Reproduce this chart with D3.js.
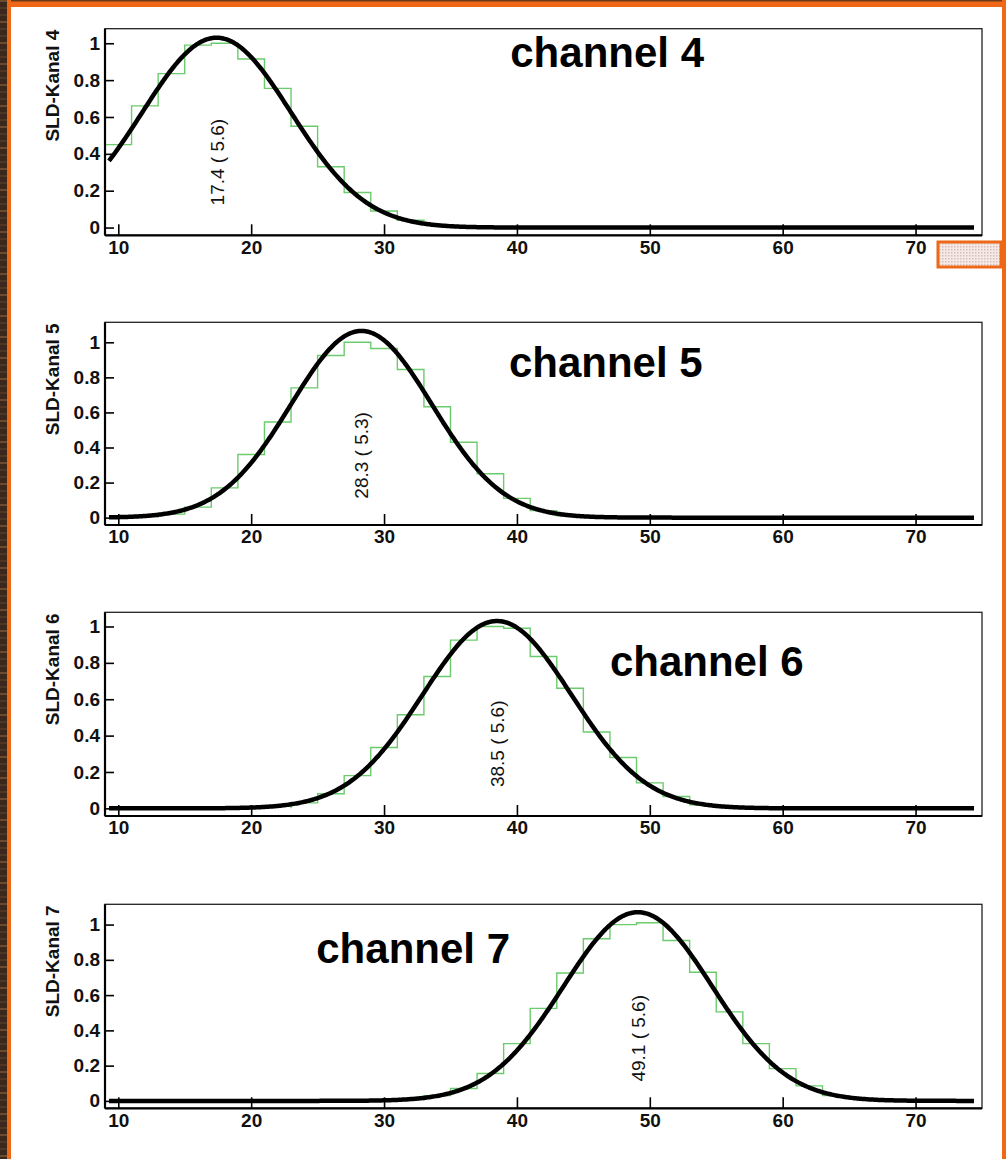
<!DOCTYPE html>
<html>
<head>
<meta charset="utf-8">
<script src="https://cdn.jsdelivr.net/npm/d3@7"></script>
<style>
body{margin:0;background:#fff;}
svg{display:block;font-family:"Liberation Sans",Arial,Helvetica,sans-serif;}
</style>
</head>
<body>
<script>
let channels = ["channel 4","channel 5","channel 6","channel 7"];
let yTitles = ["SLD-Kanal 4","SLD-Kanal 5","SLD-Kanal 6","SLD-Kanal 7"];
let fitLabels = ["17.4 ( 5.6)","28.3 ( 5.3)","38.5 ( 5.6)","49.1 ( 5.6)"];
let fitMean = [17.4, 28.3, 38.5, 49.1];
let fitSigma = [5.6, 5.3, 5.6, 5.6];
let fitAmp = [1.03, 1.065, 1.03, 1.07];

// histogram contents, bins of width 2 starting at binStart
let binStart = [9, 13, 23, 33];
let hist4 = [0.45,0.66,0.835,0.99,1.0,0.915,0.755,0.55,0.33,0.19,0.09,0.04,0.015,0.005];
let hist5 = [0.02,0.06,0.17,0.36,0.545,0.74,0.925,1.0,0.965,0.845,0.632,0.43,0.25,0.11,0.04,0.01];
let hist6 = [0.03,0.08,0.18,0.335,0.515,0.725,0.925,1.0,0.99,0.835,0.66,0.42,0.28,0.14,0.065,0.02];
let hist7 = [0.03,0.07,0.155,0.325,0.525,0.725,0.92,1.0,1.01,0.91,0.73,0.505,0.325,0.183,0.085,0.03,0.01];
let hists = [hist4, hist5, hist6, hist7];

let xTicks = [10,20,30,40,50,60,70];
let xMinor = d3.range(10, 75, 2);
let yTicks = [0,0.2,0.4,0.6,0.8,1];
let yMinor = d3.range(0, 1.1, 0.04);
let yAxisMax = [1.079, 1.114, 1.078, 1.115];
let yAxisMin = -0.042;

let W = 1006, H = 1159;
let panelTop = [28.7, 322.3, 612.3, 904.3];
let panelBottom = [235.3, 525, 816, 1108.3];
let textPos = [[39.5,0.87],[39.4,0.80],[47,0.73],[24.9,0.78]];

let svg = d3.select("body").append("svg").attr("width",W).attr("height",H);

let defs = svg.append("defs");
let pat = defs.append("pattern").attr("id","dots").attr("width",3).attr("height",3)
      .attr("patternUnits","userSpaceOnUse");
pat.append("rect").attr("width",3).attr("height",3).attr("fill","#f6e8e4");
pat.append("rect").attr("width",1.5).attr("height",1.5).attr("fill","#d4c0ba");

svg.append("rect").attr("width",W).attr("height",H).attr("fill","#fff");

// border decoration
svg.append("rect").attr("x",0).attr("y",0).attr("width",W).attr("height",7).attr("fill","#ee6818");
svg.append("rect").attr("x",0).attr("y",0).attr("width",W).attr("height",1.5).attr("fill","#6a3c1c");
svg.append("rect").attr("x",0).attr("y",0).attr("width",7).attr("height",H).attr("fill","#3a281c");
svg.selectAll("rect.wood")
      .data(d3.range(0, H, 7))
      .enter().append("rect")
                .attr("class","wood")
                .attr("x",0).attr("width",7)
                .attr("y",d=>d).attr("height",2)
                .attr("fill",(d,i)=> i%3==0 ? "#6b4a30" : "#4e3624");
svg.append("rect").attr("x",7).attr("y",0).attr("width",4).attr("height",H).attr("fill","#ee6818");
svg.append("rect").attr("x",1002).attr("y",0).attr("width",4).attr("height",H).attr("fill","#ee6818");
svg.append("rect").attr("x",938).attr("y",242).attr("width",63).attr("height",25)
      .attr("fill","url(#dots)").attr("stroke","#ee6818").attr("stroke-width",3);

let x = d3.scaleLinear().domain([9,75]).range([105,982]);

channels.forEach((ch,i)=>{
  let y = d3.scaleLinear().domain([yAxisMin, yAxisMax[i]]).range([panelBottom[i], panelTop[i]]);
  let g = svg.append("g");

  g.append("clipPath").attr("id","clip"+i)
      .append("rect").attr("x",x(9)).attr("y",panelTop[i])
      .attr("width",x(75)-x(9)).attr("height",panelBottom[i]-panelTop[i]);

  // histogram steps
  let bins = hists[i].map((v,k)=>[binStart[i]+2*k, v]);
  let last = bins[bins.length-1];
  let pts = [[bins[0][0],0]].concat(bins).concat([[last[0]+2,last[1]],[last[0]+2,0]]);
  g.append("path")
      .datum(pts)
      .attr("clip-path","url(#clip"+i+")")
      .attr("fill","none")
      .attr("stroke","#6ccb6c")
      .attr("stroke-width",1.4)
      .attr("d", d3.line().x(d=>x(d[0])).y(d=>y(d[1])).curve(d3.curveStepAfter));

  // gaussian fit
  let gauss = d3.range(9.3, 74.5, 0.1).map(v=>[v, fitAmp[i]*Math.exp(-Math.pow(v-fitMean[i],2)/(2*fitSigma[i]*fitSigma[i]))]);
  g.append("path")
      .datum(gauss)
      .attr("clip-path","url(#clip"+i+")")
      .attr("fill","none")
      .attr("stroke","#000")
      .attr("stroke-width",4.5)
      .attr("d", d3.line().x(d=>x(d[0])).y(d=>y(d[1])));

  // frame
  g.append("rect").attr("x",x(9)).attr("y",panelTop[i])
      .attr("width",x(75)-x(9)).attr("height",panelBottom[i]-panelTop[i])
      .attr("fill","none").attr("stroke","#222").attr("stroke-width",1.3);

  let xa = g.append("g").attr("transform","translate(0,"+panelBottom[i]+")");
  xa.call(d3.axisBottom(x).tickValues(xMinor).tickSize(-5).tickFormat(""));
  xa.call(d3.axisBottom(x).tickValues(xTicks).tickSize(-11).tickPadding(5).tickFormat(d3.format("d")));
  xa.selectAll(".domain").remove();
  xa.selectAll("line").attr("stroke","#000").attr("stroke-width",1.6);
  xa.selectAll("text").attr("font-size",19).attr("font-weight","bold").attr("fill","#111")
      .attr("font-family","'Liberation Sans',Arial,sans-serif");

  let ya = g.append("g").attr("transform","translate("+x(9)+",0)");
  ya.call(d3.axisLeft(y).tickValues(yMinor).tickSize(-5).tickFormat(""));
  ya.call(d3.axisLeft(y).tickValues(yTicks).tickSize(-9).tickPadding(5).tickFormat(d3.format("~g")));
  ya.selectAll(".domain").remove();
  ya.selectAll("line").attr("stroke","#000").attr("stroke-width",1.6);
  ya.selectAll("text").attr("font-size",19).attr("font-weight","bold").attr("fill","#111")
      .attr("font-family","'Liberation Sans',Arial,sans-serif");

  g.append("line").attr("x1",x(9)).attr("x2",x(75)).attr("y1",panelBottom[i]).attr("y2",panelBottom[i])
      .attr("stroke","#000").attr("stroke-width",2.2);
  g.append("line").attr("x1",x(9)).attr("x2",x(9)).attr("y1",panelTop[i]).attr("y2",panelBottom[i])
      .attr("stroke","#000").attr("stroke-width",2.2);

  g.append("text")
      .attr("transform","translate(59,"+(panelTop[i]+1)+") rotate(-90)")
      .attr("text-anchor","end")
      .attr("font-size",19)
      .attr("font-weight","bold")
      .attr("fill","#111")
      .text(yTitles[i]);

  g.append("text")
      .attr("transform","translate("+(x(fitMean[i])+7)+","+y(0.355)+") rotate(-90)")
      .attr("text-anchor","middle")
      .attr("font-size",19)
      .attr("fill","#111")
      .text(fitLabels[i]);

  g.append("text")
      .attr("x",x(textPos[i][0]))
      .attr("y",y(textPos[i][1]))
      .attr("font-size",42)
      .attr("font-weight","bold")
      .attr("fill","#000")
      .text(ch);
});
</script>
</body>
</html>
